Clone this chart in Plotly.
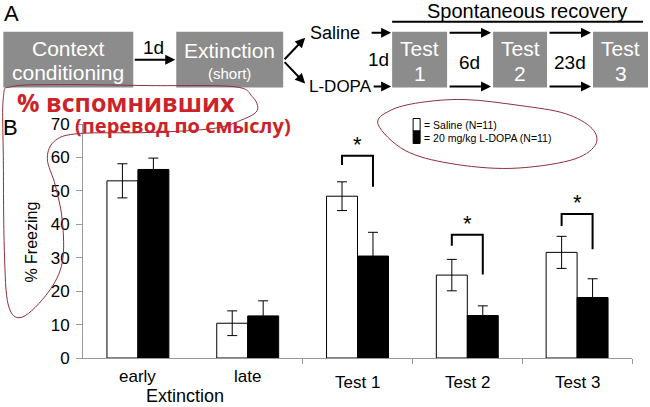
import plotly.graph_objects as go

# ---------------- data ----------------
categories = ["early", "late", "Test 1", "Test 2", "Test 3"]
saline = [53.0, 10.4, 48.4, 24.8, 31.6]
saline_err = [5.1, 3.7, 4.3, 4.7, 4.8]
ldopa = [56.4, 12.6, 30.5, 12.7, 18.1]
ldopa_err = [3.4, 4.5, 7.1, 2.9, 5.6]
yticks = [0, 10, 20, 30, 40, 50, 60, 70]
sig_idx = [2, 3, 4]
sig_top = [60.5, 36.9, 43.1]
sig_left_end = [57.7, 33.6, 39.5]
sig_right_end = [51.2, 25.0, 32.5]

W, H = 650, 407
ml, mr, mt, mb = 82.7, 18, 123.5, 49
pw, ph = W - ml - mr, H - mt - mb

def X(p):
    return (p - ml) / pw

def Y(p):
    return (H - mb - p) / ph

FONT = "Liberation Sans, Arial, sans-serif"
GRAY = "#8c8c8c"
RED = "#cc2229"
MAROON = "#8e2f3e"

fig = go.Figure()
fig.add_trace(go.Bar(
    x=list(range(len(categories))), y=saline, name="Saline (N=11)",
    marker=dict(color="white", line=dict(color="black", width=1)),
    error_y=dict(type="data", array=saline_err, color="black", thickness=1, width=5),
))
fig.add_trace(go.Bar(
    x=list(range(len(categories))), y=ldopa, name="20 mg/kg L-DOPA (N=11)",
    marker=dict(color="black", line=dict(color="black", width=1)),
    error_y=dict(type="data", array=ldopa_err, color="black", thickness=1, width=5),
))

shapes = []
annotations = []

def ann(**kw):
    d = dict(showarrow=False, xanchor="center", yanchor="middle")
    d.update(kw)
    annotations.append(d)

# significance brackets
half = 0.141
for i, top, le, re in zip(sig_idx, sig_top, sig_left_end, sig_right_end):
    shapes.append(dict(type="path", xref="x", yref="y",
                       path=f"M {i-half},{le} L {i-half},{top} L {i+half},{top} L {i+half},{re}",
                       line=dict(color="black", width=2)))
    ann(x=i, y=top, xref="x", yref="y", text="*", yanchor="bottom", yshift=-3,
        font=dict(size=22, color="black", family=FONT))

# category labels
label_y = [377, 377, 383, 383, 383]
for i, (c, ly) in enumerate(zip(categories, label_y)):
    ann(x=i, y=Y(ly), xref="x", yref="paper", text=c, font=dict(size=17, color="black", family=FONT))
ann(x=X(185), y=Y(396), xref="paper", yref="paper", text="Extinction",
    font=dict(size=18, color="black", family=FONT))

# y axis title
ann(x=X(31), y=Y(242), xref="paper", yref="paper", text="% Freezing", textangle=-90,
    font=dict(size=16, color="black", family=FONT))

# panel letters
ann(x=X(11), y=Y(13), xref="paper", yref="paper", text="A", font=dict(size=22, color="black", family=FONT))
ann(x=X(10), y=Y(127), xref="paper", yref="paper", text="B", font=dict(size=22, color="black", family=FONT))

# legend (custom)
shapes.append(dict(type="rect", xref="paper", yref="paper", x0=X(413), x1=X(420), y0=Y(118), y1=Y(130.5),
                   fillcolor="white", line=dict(color="black", width=1)))
shapes.append(dict(type="rect", xref="paper", yref="paper", x0=X(413), x1=X(420), y0=Y(130.5), y1=Y(143),
                   fillcolor="black", line=dict(color="black", width=1)))
ann(x=X(422), y=Y(124.5), xref="paper", yref="paper", text="= Saline (N=11)", xanchor="left",
    font=dict(size=10.5, color="black", family=FONT))
ann(x=X(422), y=Y(137.5), xref="paper", yref="paper", text="= 20 mg/kg L-DOPA (N=11)", xanchor="left",
    font=dict(size=10.5, color="black", family=FONT))

# ---------------- panel A diagram ----------------
boxes = [(3, 133), (176, 283), (392, 447), (493, 547), (593, 648)]
for x0, x1 in boxes:
    shapes.append(dict(type="rect", xref="paper", yref="paper", x0=X(x0), x1=X(x1), y0=Y(31), y1=Y(87),
                       fillcolor=GRAY, line=dict(width=0)))

def txt(x, y, s, size, color="black", family=FONT, **kw):
    ann(x=X(x), y=Y(y), xref="paper", yref="paper", text=s,
        font=dict(size=size, color=color, family=family), **kw)

txt(68, 48, "Context", 21, "white")
txt(68, 72, "conditioning", 21, "white")
txt(229.5, 50, "Extinction", 21, "white")
txt(229.5, 73, "(short)", 15, "white")
for (x0, x1), n in zip(boxes[2:], ["1", "2", "3"]):
    txt((x0 + x1) / 2, 48, "Test", 21, "white")
    txt((x0 + x1) / 2, 73, n, 21, "white")

txt(153, 47, "1d", 19)
txt(335, 32, "Saline", 18)
txt(340, 86, "L-DOPA", 17)
txt(378, 59, "1d", 19)
txt(469, 62, "6d", 19)
txt(570, 62, "23d", 19)
txt(527, 10, "Spontaneous recovery", 20)

shapes.append(dict(type="line", xref="paper", yref="paper", x0=X(392), x1=X(643), y0=Y(21), y1=Y(21),
                   line=dict(color="black", width=2)))

def arrow(x_tail, y_tail, x_head, y_head):
    annotations.append(dict(x=X(x_head), y=Y(y_head), xref="paper", yref="paper",
                            ax=x_tail - x_head, ay=y_tail - y_head, text="", showarrow=True,
                            arrowhead=2, arrowsize=1, arrowwidth=2, arrowcolor="black"))

arrow(133, 59, 175, 59)
arrow(283, 60, 305, 37)
arrow(283, 60, 305, 83)
arrow(370, 32, 391, 32)
arrow(372, 86, 391, 86)
arrow(448, 32, 491, 32)
arrow(448, 86, 491, 86)
arrow(548, 32, 591, 32)
arrow(548, 86, 591, 86)

# ---------------- red handwritten notes ----------------
txt(15, 101, "<b>% вспомнивших</b>", 25, RED, family="Open Sans, sans-serif", xanchor="left")
txt(73, 125, "<b>(перевод по смыслу)</b>", 20, RED, family="Open Sans, sans-serif", xanchor="left")

def smooth(pts):
    P = [(X(a), Y(b)) for a, b in pts]
    n = len(P)
    s = f"M {P[0][0]},{P[0][1]}"
    for i in range(n):
        p0, p1, p2, p3 = P[i - 1], P[i], P[(i + 1) % n], P[(i + 2) % n]
        c1 = (p1[0] + (p2[0] - p0[0]) / 6, p1[1] + (p2[1] - p0[1]) / 6)
        c2 = (p2[0] - (p3[0] - p1[0]) / 6, p2[1] - (p3[1] - p1[1]) / 6)
        s += f" C {c1[0]},{c1[1]} {c2[0]},{c2[1]} {p2[0]},{p2[1]}"
    return s + " Z"

loop1 = [(3, 97), (12, 86), (60, 84), (150, 85), (233, 86), (252, 96), (257, 110), (240, 120),
         (213, 128), (150, 132), (80, 133), (55, 140), (47, 158), (55, 185), (62, 220), (62, 262),
         (48, 292), (22, 317), (8, 305), (4, 250), (3, 160)]
loop2 = [(378, 124), (390, 110), (420, 102), (465, 99), (520, 105), (565, 113), (592, 128),
         (595, 145), (570, 160), (510, 168), (450, 163), (405, 150)]
for lp in (loop1, loop2):
    shapes.append(dict(type="path", xref="paper", yref="paper", path=smooth(lp),
                       line=dict(color=MAROON, width=1), fillcolor="rgba(0,0,0,0)", layer="above"))

fig.update_layout(
    width=W, height=H, margin=dict(l=ml, r=mr, t=mt, b=mb),
    paper_bgcolor="white", plot_bgcolor="white", showlegend=False,
    barmode="group", bargap=0.436, bargroupgap=0,
    font=dict(family=FONT, color="black"),
    xaxis=dict(range=[-0.5, len(categories) - 0.5], tickvals=[1.5, 2.5, 3.5, 4.5],
               showticklabels=False, ticks="outside", ticklen=5, tickcolor="#999",
               showline=True, linecolor="#999", linewidth=1, showgrid=False, zeroline=False),
    yaxis=dict(range=[0, 70], tickvals=yticks, ticks="outside", ticklen=6, tickcolor="#999",
               ticklabelstandoff=3,
               showline=True, linecolor="#999", linewidth=1, showgrid=False, zeroline=False,
               tickfont=dict(size=17, color="black", family=FONT)),
    shapes=shapes, annotations=annotations,
)

fig.write_html("out.html")
